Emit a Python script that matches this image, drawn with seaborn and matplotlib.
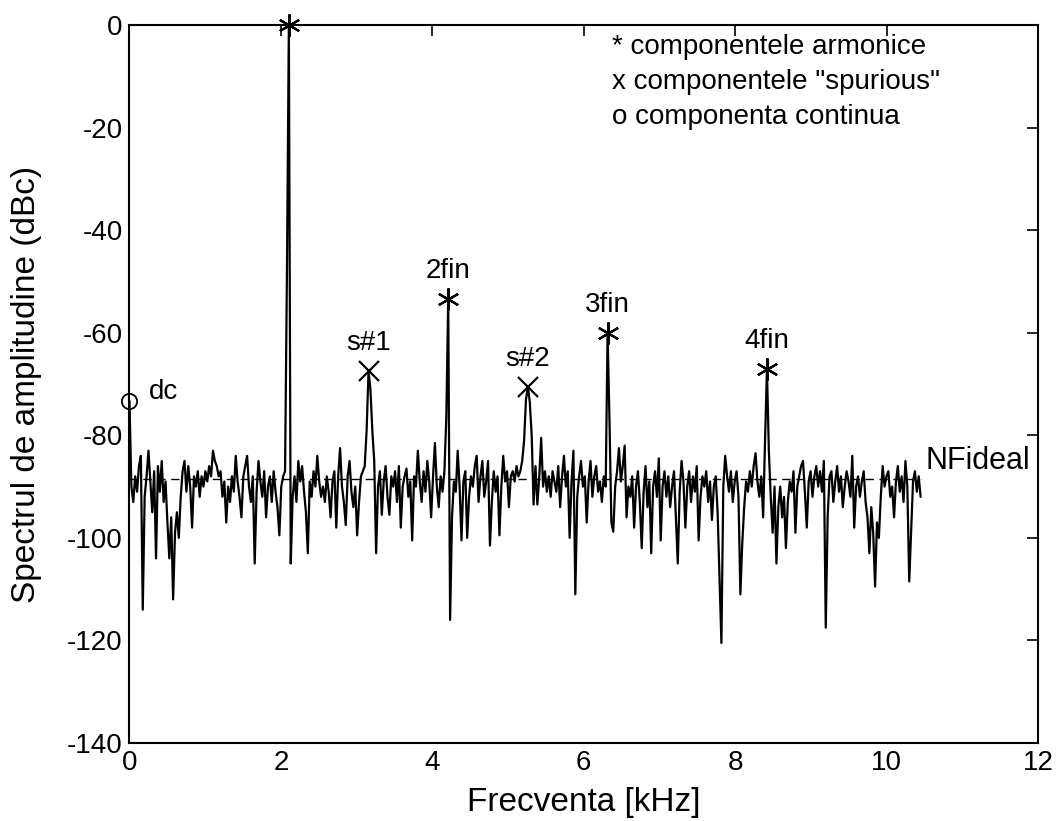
import numpy as np
import pandas as pd
import matplotlib
matplotlib.use("Agg")
import matplotlib.pyplot as plt
import seaborn as sns

# ---------------- data ----------------
bin_width_khz = 2.105 / 84   # spectral bin spacing (kHz)

spectrum_db = [
    # 0 - 1 kHz
    -73.3, -90, -93, -88, -91, -86, -84, -114, -92, -88,
    -83, -89, -95, -87, -104, -86, -91, -85, -93, -89,
    -97, -104, -96, -112, -99, -95, -100, -92, -87, -85,
    -91, -86, -90, -98, -88, -90, -87, -92, -88, -90,
    # 1 - 2 kHz
    -87, -89, -86, -88, -83, -85, -86, -88, -87, -92,
    -89, -97, -90, -93, -88, -91, -84, -89, -92, -96,
    -88, -86, -84, -90, -93, -88, -105, -91, -85, -89,
    -92, -87, -96, -90, -88, -93, -87, -91, -94, -99.5,
    # 2 - 3 kHz
    -90, -88, -87, -48, 0, -105, -92, -88, -93, -85,
    -89, -86, -91, -95, -103, -89, -92, -87, -90, -84,
    -89, -92, -90, -93, -88, -91, -96, -89, -87, -98,
    -88, -82.5, -90, -93, -97.5, -88, -85, -91, -94, -90,
    # 3 - 4 kHz
    -99.5, -93, -88, -87, -86, -79, -67.5, -71, -79, -85,
    -103, -90, -87, -95.5, -89, -86, -92, -95.5, -88, -90,
    -87, -93, -86, -98, -90, -88, -86.5, -92, -89, -100.5,
    -88, -90, -83, -89, -93, -87, -91, -85, -89, -96,
    # 4 - 5 kHz
    -88, -81.5, -90, -94, -88, -91, -87, -76.5, -53.5, -116,
    -96, -89, -91, -83, -90, -100.5, -89, -87, -100, -92,
    -88, -90, -86, -84, -93, -88, -85, -92, -89, -85,
    -101.5, -93, -87, -91, -88, -99.5, -90, -84, -89, -87,
    # 5 - 6 kHz
    -94, -88, -87, -89, -86, -88, -87, -85, -81, -73,
    -70.5, -73.5, -80, -93.5, -86, -93.5, -88, -80.5, -90, -87,
    -91, -88, -92, -87, -89, -91, -86, -94, -88, -84,
    -90, -87, -100, -89, -83, -111, -92, -88, -85, -90,
    # 6 - 7 kHz
    -88, -97, -89, -85, -92, -88, -86, -91, -89, -93,
    -88, -90, -60, -77, -97, -98.8, -90, -87, -82.5, -89,
    -86, -82, -96, -90, -92, -88, -98, -90, -87, -93,
    -102, -91, -86, -94, -89, -103, -90, -87, -92, -84.5,
    # 7 - 8 kHz
    -100.5, -90, -87, -92, -88, -94, -90, -87, -96, -105,
    -91, -85, -89, -98, -90, -87, -93, -88, -91, -86,
    -100.5, -92, -88, -90, -87, -93, -89, -96.5, -90, -88,
    -95, -108, -120.5, -90, -84, -88, -91, -87, -93, -89,
    # 8 - 9 kHz
    -87, -92, -111, -101, -94, -89, -91, -87, -90, -86,
    -83.5, -89, -92, -88, -96, -81, -67, -83, -92, -99,
    -90, -105, -94, -90, -96, -92, -102, -93, -89, -91,
    -87, -99, -90, -88, -86, -85, -91, -98, -89, -87,
    # 9 - 10 kHz
    -92, -88, -86, -90, -87, -91, -85, -117.5, -96, -88,
    -87, -93, -89, -86, -91, -88, -94, -90, -87, -89,
    -92, -84, -98, -90, -88, -92, -89, -87, -93, -96,
    -103, -94, -99, -109.5, -97, -100, -92, -86, -90, -88,
    # 10 - 10.45 kHz
    -87, -92, -90, -96, -89, -86, -91, -88, -93, -85,
    -90, -108.5, -99, -89, -87, -91, -88, -92,
]

harm_freq = [2.105, 4.21, 6.315, 8.42]
harm_db = [0, -53.5, -60, -67]
harm_labels = ["", "2fin", "3fin", "4fin"]

spur_freq = [3.158, 5.263]
spur_db = [-67.5, -70.5]
spur_labels = ["s#1", "s#2"]

dc_freq = [0.0]
dc_db = [-73.3]
dc_label = "dc"

nf_freq = [0.0, 10.45]
nf_db = [-88.5, -88.5]
nf_label = "NFideal"

legend_lines = ['* componentele armonice',
                'x componentele "spurious"',
                'o componenta continua']

x_ticks = [0, 2, 4, 6, 8, 10, 12]
y_ticks = [-140, -120, -100, -80, -60, -40, -20, 0]
x_label = "Frecventa [kHz]"
y_label = "Spectrul de amplitudine (dBc)"

# ---------------- plot ----------------
sns.set_theme(style="white")
plt.rcParams['font.family'] = ['Liberation Sans', 'DejaVu Sans']
plt.rcParams['text.color'] = 'black'
plt.rcParams['axes.labelcolor'] = 'black'
plt.rcParams['xtick.color'] = 'black'
plt.rcParams['ytick.color'] = 'black'

fs_tick = 20
fs_text = 20
fs_label = 24
fig = plt.figure(figsize=(10.57, 8.21), dpi=100)
ax = fig.add_axes([0.1225, 0.095, 0.8595, 0.8745])

freq = np.arange(len(spectrum_db)) * bin_width_khz
df = pd.DataFrame({"f": freq, "db": spectrum_db})
sns.lineplot(data=df, x="f", y="db", color="black", linewidth=1.6,
             estimator=None, sort=False, ax=ax)

nf_df = pd.DataFrame({"f": nf_freq, "db": nf_db})
sns.lineplot(data=nf_df, x="f", y="db", color="black", linewidth=1.0,
             linestyle=(0, (6, 4)), estimator=None, ax=ax)

ax.plot(harm_freq, harm_db, linestyle="none", marker=(6, 2, 0),
        markersize=16, markeredgewidth=1.6, color="black", clip_on=False)
ax.plot(spur_freq, spur_db, linestyle="none", marker="x",
        markersize=14, markeredgewidth=1.6, color="black", clip_on=False)
ax.plot(dc_freq, dc_db, linestyle="none", marker="o", markersize=11,
        markerfacecolor="none", markeredgewidth=1.3, color="black", clip_on=False)

for f, d, lab in zip(harm_freq + spur_freq, harm_db + spur_db,
                     harm_labels + spur_labels):
    if lab:
        ax.annotate(lab, (f, d), xytext=(0, 28), textcoords="offset pixels",
                    ha="center", va="center", fontsize=fs_text, color="black")
ax.annotate(dc_label, (dc_freq[0], dc_db[0]), xytext=(19, 9),
            textcoords="offset pixels", ha="left", va="center",
            fontsize=fs_text, color="black")
ax.annotate(nf_label, (nf_freq[1], nf_db[1]), xytext=(5, 18),
            textcoords="offset pixels", ha="left", va="center",
            fontsize=fs_text + 2, color="black")

for i, line in enumerate(legend_lines):
    ax.text(6.37, -4.3 - 6.8 * i, line, ha="left", va="center",
            fontsize=fs_text, color="black")

ax.set_xlim(0, 12)
ax.set_ylim(-140, 0)
ax.set_xticks(x_ticks)
ax.set_yticks(y_ticks)
ax.set_xticklabels([str(t) for t in x_ticks], fontsize=fs_tick)
ax.set_yticklabels([str(t) for t in y_ticks], fontsize=fs_tick)
ax.tick_params(direction="in", length=8, width=1.2, top=True, right=True,
               pad=5, colors="black")
ax.set_xlabel(x_label, fontsize=fs_label, labelpad=8, color="black")
ax.set_ylabel(y_label, fontsize=fs_label, labelpad=18, color="black")
for s in ax.spines.values():
    s.set_color("black")
    s.set_linewidth(1.5)
ax.grid(False)

fig.savefig("out.png", dpi=100)
